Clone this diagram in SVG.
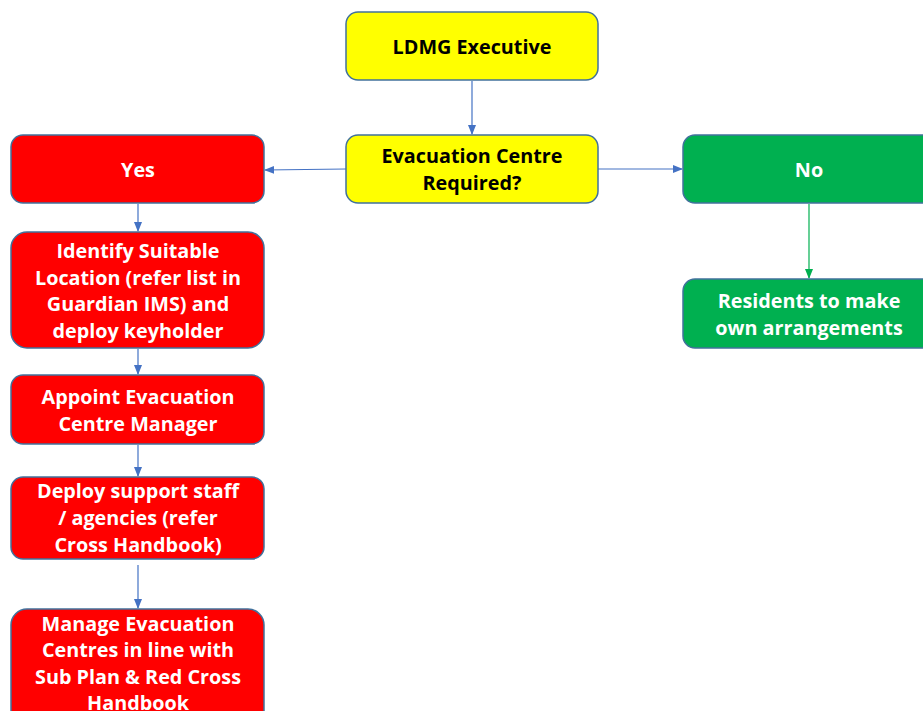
<svg xmlns="http://www.w3.org/2000/svg" width="923" height="711" viewBox="0 0 923 711">
<defs>
<style>
.box{stroke:#41719C;stroke-width:1.5}
.y{fill:#FFFF00}
.r{fill:#FF0000}
.g{fill:#00B050}
text{font-family:"Open Sans","Noto Sans",sans-serif;font-weight:bold;font-size:19.8px;text-anchor:middle}
.dk{fill:#000000}
.wt{fill:#FFFFFF}
.c{stroke:#4472C4;stroke-width:1.2;fill:none}
.cg{stroke:#00B050;stroke-width:1.2;fill:none}
</style>
<marker id="ab" markerWidth="10" markerHeight="10" refX="9" refY="5" orient="auto" markerUnits="userSpaceOnUse"><path d="M0,1 L10,5 L0,9 Z" fill="#4472C4"/></marker>
<marker id="ag" markerWidth="10" markerHeight="10" refX="9" refY="5" orient="auto" markerUnits="userSpaceOnUse"><path d="M0,1 L10,5 L0,9 Z" fill="#00B050"/></marker>
</defs>
<rect width="923" height="711" fill="#FFFFFF"/>
<g id="connectors">
<line class="c" x1="472" y1="81" x2="472" y2="134" marker-end="url(#ab)"/>
<line class="c" x1="346" y1="169" x2="265" y2="170" marker-end="url(#ab)"/>
<line class="c" x1="598" y1="169" x2="682" y2="169" marker-end="url(#ab)"/>
<line class="c" x1="138" y1="204" x2="138" y2="231" marker-end="url(#ab)"/>
<line class="c" x1="138" y1="349" x2="138" y2="374" marker-end="url(#ab)"/>
<line class="c" x1="138" y1="445" x2="138" y2="476" marker-end="url(#ab)"/>
<line class="c" x1="138" y1="565" x2="138" y2="608" marker-end="url(#ab)"/>
<line class="cg" x1="809" y1="204" x2="809" y2="278" marker-end="url(#ag)"/>
</g>
<g id="ldmg"><rect class="box y" x="346" y="12" width="252" height="68" rx="12"/><text class="dk" x="472" y="54">LDMG Executive</text></g>
<g id="ecr"><rect class="box y" x="346" y="135" width="252" height="68" rx="12"/><text class="dk" x="472" y="163">Evacuation Centre</text><text class="dk" x="472" y="190">Required?</text></g>
<g id="yes"><rect class="box r" x="11" y="135" width="253" height="68" rx="12"/><text class="wt" x="138" y="177">Yes</text></g>
<g id="no"><rect class="box g" x="683" y="135" width="253" height="68" rx="12"/><text class="wt" x="809" y="177">No</text></g>
<g id="identify"><rect class="box r" x="11" y="232" width="253" height="116" rx="16"/><text class="wt" x="138" y="258">Identify Suitable</text><text class="wt" x="138" y="285">Location (refer list in</text><text class="wt" x="138" y="311">Guardian IMS) and</text><text class="wt" x="138" y="338">deploy keyholder</text></g>
<g id="residents"><rect class="box g" x="683" y="279" width="253" height="69" rx="12"/><text class="wt" x="809" y="308">Residents to make</text><text class="wt" x="809" y="335">own arrangements</text></g>
<g id="appoint"><rect class="box r" x="11" y="375" width="253" height="69" rx="12"/><text class="wt" x="138" y="404">Appoint Evacuation</text><text class="wt" x="138" y="431">Centre Manager</text></g>
<g id="deploy"><rect class="box r" x="11" y="477" width="253" height="82" rx="12"/><text class="wt" x="138" y="498">Deploy support staff</text><text class="wt" x="138" y="525">/ agencies (refer</text><text class="wt" x="138" y="552">Cross Handbook)</text></g>
<g id="manage"><rect class="box r" x="11" y="609" width="253" height="120" rx="16"/><text class="wt" x="138" y="631">Manage Evacuation</text><text class="wt" x="138" y="657">Centres in line with</text><text class="wt" x="138" y="684">Sub Plan &amp; Red Cross</text><text class="wt" x="138" y="710">Handbook</text></g>
</svg>
